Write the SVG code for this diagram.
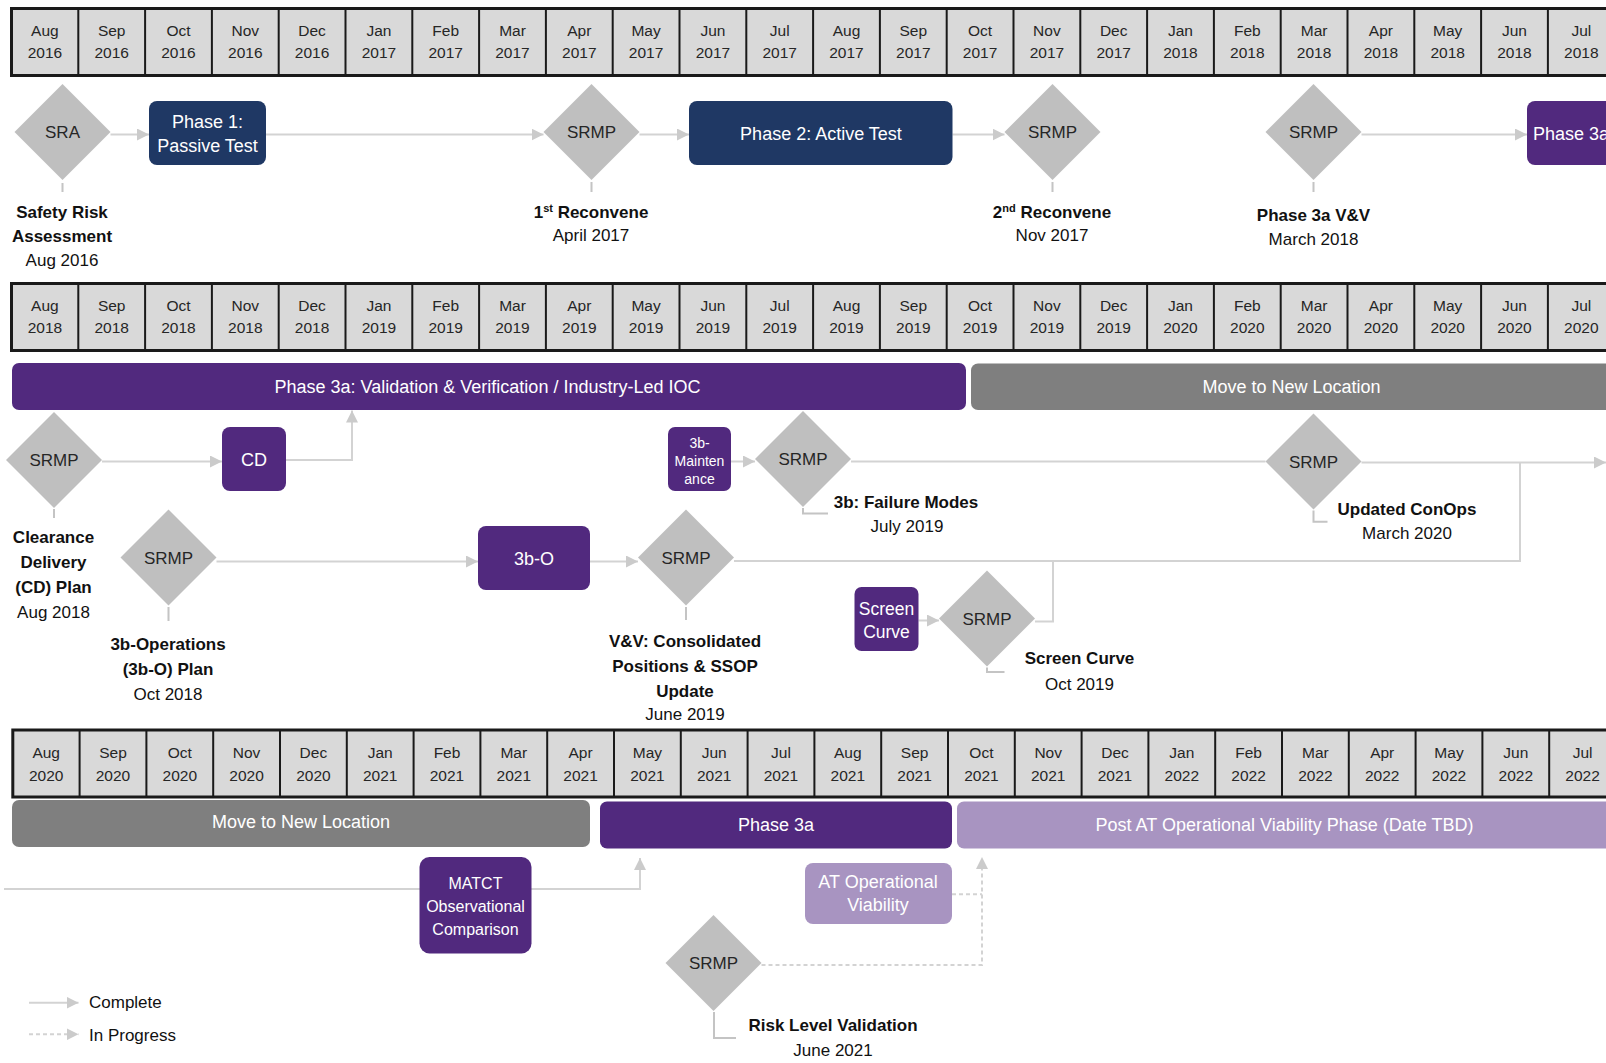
<svg xmlns="http://www.w3.org/2000/svg" width="1606" height="1063" viewBox="0 0 1606 1063">
<style>
text{font-family:"Liberation Sans",Arial,sans-serif}
.hb{fill:#d9d9d9;stroke:#1a1a1a;stroke-width:3}
.hd{stroke:#1a1a1a;stroke-width:2}
.ht{font-size:15.5px;fill:#262626;text-anchor:middle}
.dia{fill:#bfbfbf}
.dt{font-size:17px;fill:#262626;text-anchor:middle}
.navy{fill:#1f3864}
.pur{fill:#51297e}
.lp{fill:#a894c1}
.gray{fill:#7f7f7f}
.wt{font-size:18px;fill:#ffffff;text-anchor:middle}
.lb{font-size:17px;font-weight:bold;fill:#111;text-anchor:middle}
.lr{font-size:17px;fill:#111;text-anchor:middle}
.c{fill:none;stroke:#d3d3d3;stroke-width:2}
.s{fill:none;stroke:#c4c4c4;stroke-width:2}
.d{stroke-dasharray:4 3}
</style>
<defs>
<marker id="ah" viewBox="0 0 12 12" refX="12" refY="6" markerWidth="12" markerHeight="12" markerUnits="userSpaceOnUse" orient="auto"><path d="M0,0 L12,6 L0,12 z" fill="#cbcbcb"/></marker>
<g id="hdrgrid">
<rect class="hb" x="0" y="0" width="1610" height="67"/>
<path class="hd" d="M66.8,0V67M133.6,0V67M200.4,0V67M267.2,0V67M334,0V67M400.8,0V67M467.6,0V67M534.4,0V67M601.2,0V67M668,0V67M734.8,0V67M801.6,0V67M868.4,0V67M935.2,0V67M1002,0V67M1068.8,0V67M1135.6,0V67M1202.4,0V67M1269.2,0V67M1336,0V67M1402.8,0V67M1469.6,0V67M1536.4,0V67"/>
<g class="ht">
<text x="33.4" y="27.5">Aug</text><text x="100.2" y="27.5">Sep</text><text x="167" y="27.5">Oct</text><text x="233.8" y="27.5">Nov</text><text x="300.6" y="27.5">Dec</text><text x="367.4" y="27.5">Jan</text><text x="434.2" y="27.5">Feb</text><text x="501" y="27.5">Mar</text><text x="567.8" y="27.5">Apr</text><text x="634.6" y="27.5">May</text><text x="701.4" y="27.5">Jun</text><text x="768.2" y="27.5">Jul</text><text x="835" y="27.5">Aug</text><text x="901.8" y="27.5">Sep</text><text x="968.6" y="27.5">Oct</text><text x="1035.4" y="27.5">Nov</text><text x="1102.2" y="27.5">Dec</text><text x="1169" y="27.5">Jan</text><text x="1235.8" y="27.5">Feb</text><text x="1302.6" y="27.5">Mar</text><text x="1369.4" y="27.5">Apr</text><text x="1436.2" y="27.5">May</text><text x="1503" y="27.5">Jun</text><text x="1569.8" y="27.5">Jul</text>
</g>
</g>
</defs>

<g id="timeline-2016-2018">
<use href="#hdrgrid" x="11.5" y="8.5"/>
<g class="ht" transform="translate(11.5,8.5)">
<text x="33.4" y="49">2016</text><text x="100.2" y="49">2016</text><text x="167" y="49">2016</text><text x="233.8" y="49">2016</text><text x="300.6" y="49">2016</text><text x="367.4" y="49">2017</text><text x="434.2" y="49">2017</text><text x="501" y="49">2017</text><text x="567.8" y="49">2017</text><text x="634.6" y="49">2017</text><text x="701.4" y="49">2017</text><text x="768.2" y="49">2017</text><text x="835" y="49">2017</text><text x="901.8" y="49">2017</text><text x="968.6" y="49">2017</text><text x="1035.4" y="49">2017</text><text x="1102.2" y="49">2017</text><text x="1169" y="49">2018</text><text x="1235.8" y="49">2018</text><text x="1302.6" y="49">2018</text><text x="1369.4" y="49">2018</text><text x="1436.2" y="49">2018</text><text x="1503" y="49">2018</text><text x="1569.8" y="49">2018</text>
</g>
</g>
<g id="timeline-2018-2020">
<use href="#hdrgrid" x="11.5" y="283.5"/>
<g class="ht" transform="translate(11.5,283.5)">
<text x="33.4" y="49">2018</text><text x="100.2" y="49">2018</text><text x="167" y="49">2018</text><text x="233.8" y="49">2018</text><text x="300.6" y="49">2018</text><text x="367.4" y="49">2019</text><text x="434.2" y="49">2019</text><text x="501" y="49">2019</text><text x="567.8" y="49">2019</text><text x="634.6" y="49">2019</text><text x="701.4" y="49">2019</text><text x="768.2" y="49">2019</text><text x="835" y="49">2019</text><text x="901.8" y="49">2019</text><text x="968.6" y="49">2019</text><text x="1035.4" y="49">2019</text><text x="1102.2" y="49">2019</text><text x="1169" y="49">2020</text><text x="1235.8" y="49">2020</text><text x="1302.6" y="49">2020</text><text x="1369.4" y="49">2020</text><text x="1436.2" y="49">2020</text><text x="1503" y="49">2020</text><text x="1569.8" y="49">2020</text>
</g>
</g>
<g id="timeline-2020-2022">
<use href="#hdrgrid" x="12.8" y="730"/>
<g class="ht" transform="translate(12.8,730)">
<text x="33.4" y="50.5">2020</text><text x="100.2" y="50.5">2020</text><text x="167" y="50.5">2020</text><text x="233.8" y="50.5">2020</text><text x="300.6" y="50.5">2020</text><text x="367.4" y="50.5">2021</text><text x="434.2" y="50.5">2021</text><text x="501" y="50.5">2021</text><text x="567.8" y="50.5">2021</text><text x="634.6" y="50.5">2021</text><text x="701.4" y="50.5">2021</text><text x="768.2" y="50.5">2021</text><text x="835" y="50.5">2021</text><text x="901.8" y="50.5">2021</text><text x="968.6" y="50.5">2021</text><text x="1035.4" y="50.5">2021</text><text x="1102.2" y="50.5">2021</text><text x="1169" y="50.5">2022</text><text x="1235.8" y="50.5">2022</text><text x="1302.6" y="50.5">2022</text><text x="1369.4" y="50.5">2022</text><text x="1436.2" y="50.5">2022</text><text x="1503" y="50.5">2022</text><text x="1569.8" y="50.5">2022</text>
</g>
</g>

<g id="connectors">
<path class="c" marker-end="url(#ah)" d="M110.5,134.5H149"/>
<path class="c" marker-end="url(#ah)" d="M266,134.5H543.5"/>
<path class="c" marker-end="url(#ah)" d="M639.5,134.5H689"/>
<path class="c" marker-end="url(#ah)" d="M952.5,134.5H1004.5"/>
<path class="c" marker-end="url(#ah)" d="M1361.5,134.5H1527"/>
<path class="c" marker-end="url(#ah)" d="M102,461.5H222"/>
<path class="c" marker-end="url(#ah)" d="M286,460H352V410.5"/>
<path class="c" marker-end="url(#ah)" d="M216.5,561.5H478"/>
<path class="c" marker-end="url(#ah)" d="M590,561.5H638"/>
<path class="c" marker-end="url(#ah)" d="M731,461.5H755"/>
<path class="c" d="M851,461.5H1265.5"/>
<path class="c" d="M734,561H1520V462.5"/>
<path class="c" marker-end="url(#ah)" d="M918.5,620.5H939"/>
<path class="c" d="M1035,621.5H1053V561"/>
<path class="c" marker-end="url(#ah)" d="M1361.5,462.5H1606"/>
<path class="c" marker-end="url(#ah)" d="M4,889H640V858"/>
<path class="c d" d="M952,894.3H982"/>
<path class="c d" marker-end="url(#ah)" d="M761.5,965H982V857"/>
<path class="s" d="M62.5,183V192M591.5,182V192M1052.5,182V192M1313.5,182V192M54,509V518M168.5,607V621M686,607V620"/>
<path class="s" d="M803,508V513.5H828M987,667.5V672H1004.5M1313.5,510.5V521.7H1327.5M714,1012V1038H736"/>
</g>

<g id="node-sra"><polygon class="dia" points="62.5,84 110.5,132 62.5,180 14.5,132"/><text class="dt" x="62.5" y="138">SRA</text>
<text class="lb" x="62" y="218">Safety Risk</text><text class="lb" x="62" y="242">Assessment</text><text class="lr" x="62" y="266">Aug 2016</text></g>
<g id="node-phase1"><rect class="navy" x="149" y="101" width="117" height="64" rx="8"/><text class="wt" x="207.5" y="128">Phase 1:</text><text class="wt" x="207.5" y="152">Passive Test</text></g>
<g id="node-srmp-apr2017"><polygon class="dia" points="591.5,84 639.5,132 591.5,180 543.5,132"/><text class="dt" x="591.5" y="138">SRMP</text>
<text class="lb" x="591" y="217.5">1<tspan font-size="11" dy="-6">st</tspan><tspan dy="6"> Reconvene</tspan></text><text class="lr" x="591" y="241">April 2017</text></g>
<g id="node-phase2"><rect class="navy" x="689" y="101" width="263.5" height="64" rx="8"/><text class="wt" x="821" y="139.5">Phase 2: Active Test</text></g>
<g id="node-srmp-nov2017"><polygon class="dia" points="1052.5,84 1100.5,132 1052.5,180 1004.5,132"/><text class="dt" x="1052.5" y="138">SRMP</text>
<text class="lb" x="1052" y="217.5">2<tspan font-size="11" dy="-6">nd</tspan><tspan dy="6"> Reconvene</tspan></text><text class="lr" x="1052" y="241">Nov 2017</text></g>
<g id="node-srmp-mar2018"><polygon class="dia" points="1313.5,84 1361.5,132 1313.5,180 1265.5,132"/><text class="dt" x="1313.5" y="138">SRMP</text>
<text class="lb" x="1313.5" y="220.5">Phase 3a V&amp;V</text><text class="lr" x="1313.5" y="244.5">March 2018</text></g>
<g id="node-phase3a-top"><rect class="pur" x="1527" y="101" width="100" height="64" rx="8"/><text class="wt" x="1533" y="139.5" style="text-anchor:start">Phase 3a</text></g>

<g id="bar-phase3a-vv"><rect class="pur" x="12" y="363" width="954" height="47" rx="7"/><text class="wt" x="487.5" y="393">Phase 3a: Validation &amp; Verification / Industry-Led IOC</text></g>
<g id="bar-move-1"><rect class="gray" x="971" y="363.5" width="660" height="46.5" rx="7"/><text class="wt" x="1291.5" y="393">Move to New Location</text></g>
<g id="node-srmp-aug2018"><polygon class="dia" points="54,412 102,460 54,508 6,460"/><text class="dt" x="54" y="466">SRMP</text>
<text class="lb" x="53.5" y="543">Clearance</text><text class="lb" x="53.5" y="568">Delivery</text><text class="lb" x="53.5" y="592.5">(CD) Plan</text><text class="lr" x="53.5" y="618">Aug 2018</text></g>
<g id="node-cd"><rect class="pur" x="222" y="427" width="64" height="64" rx="8"/><text class="wt" x="254" y="465.5">CD</text></g>
<g id="node-srmp-oct2018"><polygon class="dia" points="168.5,509.5 216.5,557.5 168.5,605.5 120.5,557.5"/><text class="dt" x="168.5" y="563.5">SRMP</text>
<text class="lb" x="168" y="649.5">3b-Operations</text><text class="lb" x="168" y="674.5">(3b-O) Plan</text><text class="lr" x="168" y="699.5">Oct 2018</text></g>
<g id="node-3bo"><rect class="pur" x="478" y="526" width="112" height="64" rx="8"/><text class="wt" x="534" y="564.5">3b-O</text></g>
<g id="node-srmp-jun2019"><polygon class="dia" points="686,509.5 734,557.5 686,605.5 638,557.5"/><text class="dt" x="686" y="563.5">SRMP</text>
<text class="lb" x="685" y="647">V&amp;V: Consolidated</text><text class="lb" x="685" y="672">Positions &amp; SSOP</text><text class="lb" x="685" y="696.5">Update</text><text class="lr" x="685" y="720">June 2019</text></g>
<g id="node-3bm"><rect class="pur" x="668" y="427" width="63" height="64" rx="7"/><g class="wt" style="font-size:14px"><text x="699.5" y="447.5">3b-</text><text x="699.5" y="466">Mainten</text><text x="699.5" y="483.5">ance</text></g></g>
<g id="node-srmp-jul2019"><polygon class="dia" points="803,411 851,459 803,507 755,459"/><text class="dt" x="803" y="465">SRMP</text>
<text class="lb" x="906" y="508">3b: Failure Modes</text><text class="lr" x="907" y="532">July 2019</text></g>
<g id="node-screen-curve"><rect class="pur" x="854.5" y="587" width="64" height="64" rx="7"/><text class="wt" x="886.5" y="614.5" style="font-size:17.5px">Screen</text><text class="wt" x="886.5" y="638" style="font-size:17.5px">Curve</text></g>
<g id="node-srmp-oct2019"><polygon class="dia" points="987,570.5 1035,618.5 987,666.5 939,618.5"/><text class="dt" x="987" y="624.5">SRMP</text>
<text class="lb" x="1079.5" y="664">Screen Curve</text><text class="lr" x="1079.5" y="689.5">Oct 2019</text></g>
<g id="node-srmp-mar2020"><polygon class="dia" points="1313.5,413.5 1361.5,461.5 1313.5,509.5 1265.5,461.5"/><text class="dt" x="1313.5" y="467.5">SRMP</text>
<text class="lb" x="1407" y="514.5">Updated ConOps</text><text class="lr" x="1407" y="538.5">March 2020</text></g>

<g id="bar-move-2"><rect class="gray" x="12" y="800" width="578" height="47" rx="7"/><text class="wt" x="301" y="828">Move to New Location</text></g>
<g id="bar-phase3a"><rect class="pur" x="600" y="801.5" width="352" height="47" rx="7"/><text class="wt" x="776" y="831">Phase 3a</text></g>
<g id="bar-post-at"><rect class="lp" x="957" y="801.5" width="700" height="47" rx="7"/><text class="wt" x="1284.5" y="830.5">Post AT Operational Viability Phase (Date TBD)</text></g>
<g id="node-matct"><rect class="pur" x="419.5" y="857" width="112" height="96.5" rx="10"/><g class="wt" style="font-size:16px"><text x="475.5" y="888.5">MATCT</text><text x="475.5" y="911.5">Observational</text><text x="475.5" y="935">Comparison</text></g></g>
<g id="node-at-op"><rect class="lp" x="805" y="863" width="147" height="61" rx="8"/><text class="wt" x="878" y="887.5">AT Operational</text><text class="wt" x="878" y="910.5">Viability</text></g>
<g id="node-srmp-jun2021"><polygon class="dia" points="713.5,915 761.5,963 713.5,1011 665.5,963"/><text class="dt" x="713.5" y="969">SRMP</text>
<text class="lb" x="833" y="1031">Risk Level Validation</text><text class="lr" x="833" y="1056">June 2021</text></g>

<g id="legend">
<path class="c" marker-end="url(#ah)" d="M29,1002.7H78.5"/>
<path class="c d" marker-end="url(#ah)" d="M29,1034.3H78.5"/>
<text x="89" y="1008" style="font-size:17px;fill:#111">Complete</text>
<text x="89" y="1040.5" style="font-size:17px;fill:#111">In Progress</text>
</g>
</svg>
